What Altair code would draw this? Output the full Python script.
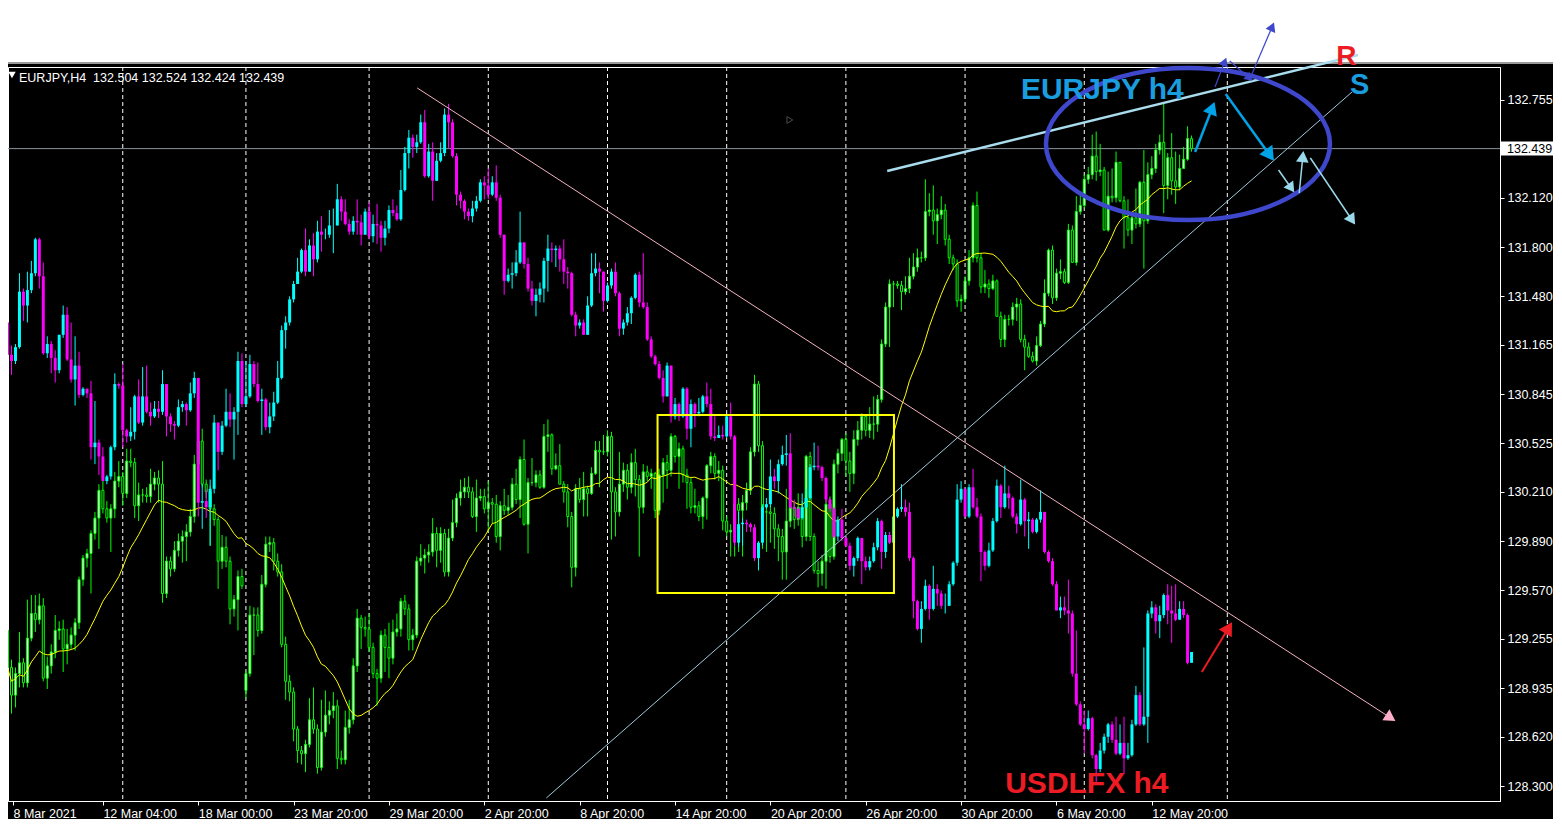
import math
import altair as alt
import pandas as pd

# ------------------------------------------------------------------ data
# USDLFX h4 (drawn on the EURJPY price axis)
U_OPEN0 = 131.31
U_CLOSE = [
    131.10, 131.06, 131.15, 131.51, 131.42, 131.52, 131.63, 131.85, 131.61, 131.11,
    131.17, 131.08, 131.00, 131.23, 131.36, 131.07, 130.94, 131.03, 130.84, 130.88,
    130.85, 130.50, 130.53, 130.44, 130.28, 130.31, 130.50, 130.91, 130.90, 130.61,
    130.57, 130.60, 130.83, 130.66, 130.83, 130.73, 130.70, 130.75, 130.73, 130.91,
    130.70, 130.65, 130.64, 130.76, 130.78, 130.74, 130.85, 130.95, 130.14, 130.15,
    130.11, 130.23, 130.66, 130.47, 130.64, 130.73, 130.68, 130.73, 131.06, 130.78,
    130.83, 131.04, 130.91, 130.80, 130.81, 130.63, 130.70, 130.79, 130.95, 131.26,
    131.31, 131.46, 131.56, 131.64, 131.78,
    131.64, 131.81, 131.72, 131.90, 131.88, 131.88, 131.94, 131.94, 132.11, 132.03,
    131.95, 131.90, 131.97, 131.96, 131.88, 132.03, 131.87, 131.95, 131.94, 131.86,
    131.92, 132.04, 132.02, 131.98, 132.17, 132.41, 132.51, 132.45, 132.48, 132.61,
    132.26, 132.42, 132.23, 132.36, 132.41, 132.66, 132.61, 132.39, 132.14, 132.10,
    132.03, 132.00, 132.05, 132.10, 132.22, 132.20, 132.14, 132.22, 132.12, 131.88,
    131.58, 131.62, 131.63, 131.70, 131.83, 131.69, 131.53, 131.45, 131.49, 131.53,
    131.71, 131.79, 131.78, 131.79, 131.72, 131.64, 131.63, 131.36, 131.29, 131.31,
    131.23, 131.42, 131.63, 131.66, 131.64,
    131.45, 131.55, 131.64, 131.50, 131.27, 131.31, 131.37, 131.47, 131.62, 131.44,
    131.41, 131.20, 131.09, 131.04, 130.95, 130.83, 131.03, 130.70, 130.78, 130.70,
    130.88, 130.62, 130.78, 130.72, 130.73, 130.83, 130.78, 130.57, 130.56, 130.58,
    130.57, 130.70, 130.57, 129.88, 130.00, 130.01, 130.00, 129.98, 129.78, 129.88,
    130.11, 130.13, 130.31, 130.28, 130.39, 130.45, 130.46, 130.11, 130.10, 130.04,
    130.11, 130.17, 130.37, 130.38, 130.37, 130.30, 130.16, 130.10, 129.92, 130.03,
    129.91, 129.86, 129.73, 129.78, 129.91, 129.76, 129.72, 129.76, 129.85, 130.02,
    129.82, 129.93, 129.88, 130.05, 130.10,
    130.11, 130.08, 129.78, 129.50, 129.32, 129.45, 129.60, 129.45, 129.58, 129.55,
    129.47, 129.47, 129.61, 129.75, 130.16, 130.23, 130.05, 130.24, 130.11, 130.05,
    129.82, 129.73, 129.83, 130.02, 130.25, 130.11, 130.20, 130.17, 130.05, 130.00,
    130.16, 130.02, 130.03, 129.95, 130.03, 130.08, 129.82, 129.76, 129.61, 129.44,
    129.46, 129.44, 129.42, 129.03, 128.83, 128.70, 128.67, 128.74, 128.50, 128.41,
    128.53, 128.62, 128.70, 128.60, 128.51, 128.58, 128.48, 128.50, 128.70, 128.89,
    128.70, 128.75, 129.42, 129.46, 129.37, 129.41, 129.54, 129.44, 129.42, 129.38,
    129.45, 129.41, 129.10, 129.17,
]
U_HIGH = [
    131.32, 131.16, 131.17, 131.63, 131.53, 131.64, 131.71, 131.86, 131.86, 131.70,
    131.22, 131.19, 131.13, 131.23, 131.42, 131.41, 131.31, 131.22, 131.12, 130.89,
    130.88, 130.93, 130.80, 130.55, 130.50, 130.32, 130.51, 130.98, 130.92, 131.04,
    130.62, 130.76, 130.84, 130.94, 131.02, 131.03, 130.79, 130.80, 130.80, 131.00,
    130.91, 130.72, 130.67, 130.81, 130.80, 130.79, 130.92, 130.99, 130.95, 130.26,
    130.23, 130.29, 130.71, 130.66, 130.67, 130.88, 130.85, 130.76, 131.12, 131.11,
    131.06, 131.10, 131.06, 131.05, 130.88, 130.82, 130.79, 130.86, 131.06, 131.29,
    131.35, 131.48, 131.58, 131.73, 131.79,
    131.92, 131.85, 131.89, 131.97, 132.00, 131.92, 132.04, 132.05, 132.21, 132.13,
    132.11, 131.98, 132.00, 132.11, 132.01, 132.05, 132.09, 132.01, 132.08, 131.97,
    131.97, 132.07, 132.11, 132.07, 132.30, 132.45, 132.56, 132.53, 132.53, 132.66,
    132.69, 132.47, 132.48, 132.41, 132.48, 132.70, 132.73, 132.63, 132.41, 132.16,
    132.11, 132.05, 132.10, 132.13, 132.24, 132.26, 132.31, 132.26, 132.33, 132.14,
    131.88, 131.66, 131.70, 131.78, 132.03, 131.83, 131.73, 131.58, 131.53, 131.57,
    131.73, 131.88, 131.83, 131.81, 131.81, 131.85, 131.67, 131.64, 131.38, 131.33,
    131.33, 131.48, 131.76, 131.76, 131.70,
    131.48, 131.57, 131.66, 131.70, 131.51, 131.33, 131.41, 131.48, 131.63, 131.64,
    131.76, 131.44, 131.22, 131.10, 131.06, 131.00, 131.05, 131.03, 130.82, 130.79,
    130.89, 130.89, 130.81, 130.79, 130.82, 130.84, 130.92, 130.88, 130.70, 130.64,
    130.64, 130.71, 130.79, 130.58, 130.08, 130.04, 130.03, 130.01, 130.00, 129.89,
    130.13, 130.17, 130.42, 130.36, 130.42, 130.51, 130.58, 130.59, 130.16, 130.11,
    130.20, 130.23, 130.39, 130.53, 130.51, 130.38, 130.31, 130.17, 130.11, 130.05,
    130.10, 129.92, 129.88, 129.79, 129.92, 129.91, 129.79, 129.79, 129.88, 130.04,
    130.03, 129.95, 129.95, 130.08, 130.11,
    130.26, 130.16, 130.14, 129.79, 129.51, 129.50, 129.64, 129.61, 129.73, 129.61,
    129.57, 129.55, 129.63, 129.76, 130.26, 130.28, 130.23, 130.26, 130.36, 130.17,
    130.07, 129.83, 129.88, 130.04, 130.29, 130.26, 130.38, 130.25, 130.18, 130.07,
    130.29, 130.17, 130.08, 130.04, 130.04, 130.22, 130.08, 129.83, 129.78, 129.63,
    129.53, 129.53, 129.64, 129.44, 129.31, 128.85, 128.79, 128.79, 128.75, 128.51,
    128.58, 128.64, 128.71, 128.72, 128.75, 128.70, 128.75, 128.58, 128.73, 128.95,
    128.91, 129.20, 129.44, 129.50, 129.48, 129.47, 129.55, 129.61, 129.60, 129.61,
    129.50, 129.50, 129.42, 129.17,
]
U_LOW = [
    131.07, 130.97, 131.04, 131.14, 131.32, 131.31, 131.50, 131.61, 131.53, 131.10,
    131.08, 130.98, 130.92, 130.98, 131.21, 131.06, 130.92, 130.77, 130.82, 130.83,
    130.82, 130.42, 130.39, 130.32, 130.28, 130.26, 130.29, 130.48, 130.88, 130.50,
    130.53, 130.54, 130.55, 130.65, 130.64, 130.72, 130.64, 130.69, 130.69, 130.71,
    130.57, 130.60, 130.55, 130.63, 130.73, 130.64, 130.73, 130.82, 130.05, 129.97,
    130.04, 129.86, 130.20, 130.35, 130.45, 130.63, 130.63, 130.42, 130.58, 130.76,
    130.76, 130.82, 130.89, 130.79, 130.58, 130.61, 130.59, 130.67, 130.78, 130.94,
    131.14, 131.29, 131.44, 131.56, 131.63,
    131.61, 131.64, 131.61, 131.70, 131.77, 131.85, 131.86, 131.76, 131.94, 131.97,
    131.94, 131.88, 131.88, 131.88, 131.81, 131.88, 131.85, 131.83, 131.82, 131.77,
    131.81, 131.89, 132.00, 131.97, 131.97, 132.16, 132.31, 132.38, 132.41, 132.47,
    132.25, 132.25, 132.10, 132.23, 132.35, 132.39, 132.44, 132.38, 132.07, 132.05,
    131.98, 131.97, 131.96, 132.03, 132.09, 132.11, 132.11, 132.13, 132.10, 131.86,
    131.49, 131.57, 131.53, 131.61, 131.69, 131.66, 131.51, 131.42, 131.35, 131.44,
    131.44, 131.51, 131.70, 131.67, 131.64, 131.56, 131.53, 131.35, 131.22, 131.27,
    131.23, 131.23, 131.41, 131.61, 131.50,
    131.38, 131.44, 131.53, 131.48, 131.22, 131.23, 131.29, 131.30, 131.46, 131.41,
    131.40, 131.19, 131.08, 131.03, 130.94, 130.79, 130.83, 130.66, 130.68, 130.67,
    130.69, 130.55, 130.50, 130.63, 130.70, 130.72, 130.76, 130.55, 130.54, 130.56,
    130.55, 130.56, 130.55, 129.86, 129.85, 129.86, 129.95, 129.95, 129.76, 129.70,
    129.86, 130.10, 130.11, 130.23, 130.20, 130.38, 130.38, 130.10, 130.05, 130.03,
    130.03, 130.10, 130.16, 130.35, 130.35, 130.28, 130.14, 130.08, 129.91, 129.89,
    129.89, 129.85, 129.70, 129.66, 129.76, 129.61, 129.70, 129.70, 129.75, 129.83,
    129.71, 129.78, 129.87, 129.87, 130.04,
    130.08, 130.05, 129.76, 129.39, 129.31, 129.23, 129.44, 129.38, 129.44, 129.47,
    129.45, 129.42, 129.47, 129.60, 129.73, 130.14, 130.05, 130.04, 130.10, 130.04,
    129.63, 129.70, 129.72, 129.82, 130.01, 130.04, 130.10, 130.10, 130.04, 129.94,
    129.99, 129.92, 129.84, 129.94, 129.94, 130.01, 129.81, 129.75, 129.60, 129.44,
    129.39, 129.41, 129.29, 129.01, 128.82, 128.69, 128.51, 128.66, 128.48, 128.32,
    128.39, 128.51, 128.58, 128.58, 128.50, 128.50, 128.38, 128.47, 128.49, 128.69,
    128.69, 128.69, 128.58, 129.39, 129.29, 129.26, 129.39, 129.35, 129.23, 129.37,
    129.38, 129.39, 129.09, 129.11,
]

# EURJPY h4
E_OPEN0 = 129.31
E_GAP_OPEN = {60: 128.92}
E_CLOSE = [
    129.07, 128.89, 129.03, 129.10, 128.97, 129.26, 129.42, 129.38, 129.47, 129.00,
    129.08, 129.17, 129.31, 129.32, 129.19, 129.22, 129.28, 129.36, 129.64, 129.78,
    129.81, 129.94, 130.04, 130.22, 130.10, 130.04, 130.10, 130.28, 130.31, 130.20,
    130.41, 130.40, 130.12, 130.19, 130.19, 130.18, 130.26, 130.30, 130.26, 129.55,
    129.76, 129.71, 129.83, 129.89, 129.92, 129.95, 130.05, 130.39, 130.54, 130.26,
    130.21, 130.10, 130.03, 129.76, 129.85, 129.76, 129.45, 129.51, 129.66, 129.60,
    129.03, 129.41, 129.41, 129.31, 129.61, 129.87, 129.88, 129.76, 129.69, 129.22,
    128.98, 128.91, 128.67, 128.53, 128.51,
    128.57, 128.73, 128.67, 128.42, 128.65, 128.76, 128.79, 128.82, 128.48, 128.47,
    128.68, 128.73, 129.08, 129.39, 129.33, 129.32, 129.20, 129.03, 129.00, 129.28,
    129.20, 129.13, 129.30, 129.32, 129.50, 129.45, 129.25, 129.28, 129.76, 129.78,
    129.80, 129.82, 129.94, 129.83, 129.94, 129.69, 129.91, 130.01, 130.17, 130.21,
    130.24, 130.21, 130.05, 130.17, 130.18, 130.10, 130.14, 130.13, 129.92, 130.12,
    130.09, 130.11, 130.26, 130.16, 130.42, 130.00, 130.27, 130.27, 130.32, 130.24,
    130.57, 130.58, 130.36, 130.38, 130.26, 130.21, 130.05, 129.72, 130.23, 130.16,
    130.23, 130.20, 130.33, 130.48, 130.47,
    130.47, 130.57, 130.21, 130.08, 130.26, 130.35, 130.24, 130.40, 130.29, 130.11,
    130.34, 130.31, 130.33, 130.09, 130.32, 130.40, 130.35, 130.57, 130.44, 130.49,
    130.32, 130.27, 130.11, 130.12, 130.05, 130.17, 130.38, 130.44, 130.33, 130.35,
    130.02, 129.95, 129.96, 130.13, 130.09, 130.14, 130.22, 130.47, 130.91, 130.51,
    130.08, 130.08, 130.07, 129.97, 129.92, 129.82, 130.02, 130.11, 130.03, 130.11,
    129.92, 130.44, 129.92, 129.70, 129.68, 129.76, 130.13, 129.79, 130.39, 130.46,
    130.55, 130.41, 130.33, 130.55, 130.61, 130.70, 130.61, 130.65, 130.65, 130.81,
    131.17, 131.41, 131.56, 131.56, 131.55,
    131.51, 131.53, 131.61, 131.67, 131.73, 131.73, 132.03, 132.04, 131.97, 132.01,
    132.04, 131.85, 131.73, 131.69, 131.45, 131.46, 131.58, 131.73, 132.07, 131.73,
    131.54, 131.56, 131.53, 131.58, 131.35, 131.20, 131.33, 131.33, 131.41, 131.43,
    131.20, 131.15, 131.09, 131.06, 131.16, 131.30, 131.50, 131.78, 131.47, 131.63,
    131.64, 131.57, 131.91, 131.70, 132.03, 132.07, 132.24, 132.27, 132.39, 132.29,
    132.30, 131.91, 132.13, 132.12, 132.35, 132.10, 131.99, 131.91, 131.99, 131.95,
    132.22, 131.97, 132.27, 132.31, 132.43, 132.48, 132.20, 132.38, 132.23, 132.19,
    132.31, 132.37, 132.504, 132.439,
]
# upper / lower shadow lengths (yen)
E_UPPER = [
    .03, .05, .04, .20, .03, .25, .12, .12, .08, .05, .06, .05, .10, .05, .06, .10, .05, .03, .02, .02,
    .03, .02, .04, .04, .10, .05, .03, .06, .10, .03, .08, .08, .03, .08, .04, .05, .10, .04, .05, .15,
    .03, .03, .06, .05, .04, .05, .05, .06, .12, .08, .03, .04, .03, .02, .08, .07, .03, .03, .04, .05,
    .02, .06, .05, .05, .06, .05, .04, .03, .05, .05, .05, .04, .03, .02, .03,
    .03, .14, .21, .03, .21, .16, .06, .09, .04, .05, .11, .13, .05, .06, .02, .07, .10, .03, .03, .03,
    .04, .16, .08, .10, .02, .04, .03, .04, .03, .09, .04, .05, .10, .04, .04, .03, .06, .15, .03, .08,
    .06, .07, .03, .12, .05, .05, .14, .03, .06, .03, .11, .08, .04, .10, .02, .13, .03, .16, .03, .03,
    .08, .10, .01, .08, .14, .02, .05, .03, .03, .07, .11, .02, .04, .06, .06,
    .11, .04, .03, .03, .21, .05, .04, .06, .09, .03, .05, .04, .03, .01, .04, .03, .05, .02, .01, .04,
    .02, .04, .03, .11, .03, .01, .01, .03, .02, .06, .03, .03, .04, .05, .04, .05, .05, .03, .06, .02,
    .03, .05, .04, .04, .03, .05, .21, .06, .03, .09, .04, .01, .03, .02, .06, .04, .05, .05, .03, .03,
    .01, .04, .06, .06, .06, .02, .01, .11, .18, .03, .03, .03, .03, .02, .02,
    .03, .08, .12, .09, .06, .04, .21, .11, .16, .04, .09, .04, .03, .02, .03, .03, .03, .05, .02, .09,
    .03, .09, .03, .04, .01, .03, .03, .03, .03, .04, .03, .03, .03, .03, .06, .02, .09, .01, .03, .03,
    .08, .02, .04, .03, .10, .08, .03, .05, .14, .16, .17, .02, .16, .18, .07, .00, .03, .12, .03, .19,
    .01, .21, .08, .08, .04, .05, .25, .03, .16, .19, .09, .08, .08, .02,
]
E_LOWER = [
    .10, .12, .08, .09, .03, .03, .02, .08, .03, .02, .07, .05, .04, .06, .15, .10, .03, .10, .04, .04,
    .06, .26, .04, .20, .03, .03, .22, .06, .04, .08, .03, .03, .08, .10, .05, .04, .04, .04, .12, .06,
    .03, .05, .02, .04, .14, .16, .03, .04, .05, .02, .04, .24, .04, .18, .05, .04, .10, .05, .20, .02,
    .05, .02, .26, .04, .02, .02, .05, .06, .03, .02, .12, .06, .08, .08, .07,
    .12, .02, .03, .04, .02, .03, .06, .05, .07, .03, .03, .04, .03, .04, .14, .05, .03, .03, .18, .03,
    .16, .13, .04, .03, .05, .04, .07, .07, .02, .03, .10, .05, .03, .11, .08, .03, .03, .02, .03, .05,
    .04, .04, .01, .10, .02, .03, .15, .13, .04, .09, .03, .03, .02, .03, .12, .01, .19, .02, .03, .01,
    .01, .10, .04, .01, .00, .07, .07, .13, .06, .02, .11, .15, .01, .01, .23,
    .02, .03, .31, .16, .03, .05, .08, .04, .11, .32, .04, .03, .08, .05, .03, .18, .12, .04, .04, .21,
    .05, .17, .04, .04, .03, .08, .14, .05, .04, .05, .06, .03, .16, .17, .27, .30, .05, .03, .03, .04,
    .24, .26, .19, .13, .16, .18, .18, .04, .06, .04, .07, .03, .03, .02, .09, .08, .18, .04, .02, .06,
    .05, .10, .12, .07, .04, .06, .04, .05, .10, .05, .02, .02, .26, .15, .02,
    .12, .02, .03, .02, .03, .03, .02, .03, .09, .15, .03, .04, .04, .04, .04, .07, .02, .03, .03, .03,
    .04, .04, .06, .01, .00, .05, .05, .04, .04, .09, .02, .15, .01, .01, .03, .01, .02, .02, .04, .02,
    .04, .01, .01, .00, .02, .02, .02, .03, .03, .06, .03, .00, .01, .03, .03, .01, .20, .04, .09, .03,
    .02, .31, .02, .03, .03, .03, .18, .09, .09, .11, .02, .00, .01, .02,
]
MA_PERIOD = 20

# first label belongs to the left edge of the visible window (bar 0 is cut by the frame)
X_TICKS = [1.375, 24, 48, 72, 96, 120, 144, 168, 192, 216, 240, 264, 288]
X_LABELS = ["8 Mar 2021", "12 Mar 04:00", "18 Mar 00:00", "23 Mar 20:00", "29 Mar 20:00",
            "2 Apr 20:00", "8 Apr 20:00", "14 Apr 20:00", "20 Apr 20:00", "26 Apr 20:00",
            "30 Apr 20:00", "6 May 20:00", "12 May 20:00"]
Y_TICKS = [132.755, 132.120, 131.800, 131.480, 131.165, 130.845, 130.525, 130.210,
           129.890, 129.570, 129.255, 128.935, 128.620, 128.300]
GRID_BARS = [29, 60, 91, 121, 151, 181, 211, 241, 271, 307]
LAST_PRICE = 132.439
HEADER = "EURJPY,H4\u00a0\u00a0132.504 132.524 132.424 132.439"

# drawn objects, in (bar, price)
LINE_B1 = [103.1, 135.6, 221.4]
LINE_P1 = [132.833, 128.222, 132.294]
LINE_B2 = [348.9, 338.4, 339.9]
LINE_P2 = [128.729, 132.807, 133.047]
LINE_COL = ["#f2b3c0", "#9fc9d9", "#a9dcec"]
LINE_W = [1.0, 1.0, 2.5]

ARR_B1 = [298.9, 306.6, 319.9, 325.1, 327.9, 303.9, 313.1, 307.6, 300.6]
ARR_P1 = [132.417, 132.794, 132.300, 132.151, 132.378, 132.839, 132.917, 133.008, 129.040]
ARR_B2 = [303.6, 318.4, 323.6, 326.1, 338.9, 306.6, 318.6, 313.1, 307.9]
ARR_P2 = [132.729, 132.372, 132.164, 132.411, 131.956, 133.021, 133.249, 132.885, 129.352]
ARR_COL = ["#00a2e8", "#00a2e8", "#99d9ea", "#99d9ea", "#99d9ea",
           "#3f48cc", "#3f48cc", "#3f48cc", "#ed1c24"]
ARR_W = [2.5, 2.5, 1.5, 1.5, 1.5, 1.2, 1.2, 1.2, 2.0]
ARR_HEAD = [220, 260, 140, 160, 160, 100, 110, 90, 230]

BOX_B = [163.6, 223.1]
BOX_P = [130.709, 129.553]
ELLIPSE_B, ELLIPSE_P = 297.1, 132.469
MARKER_B, MARKER_P = 196.9, 132.625

TEXTS = ["EURJPY h4", "USDLFX h4", "R", "S"]
TEXT_B = [255.05, 251.1, 334.4, 337.9]
TEXT_P = [132.761, 128.254, 132.982, 132.794]
TEXT_COL = ["#1a9ddf", "#ed1c24", "#ed1c24", "#1a9ddf"]
TEXT_SIZE = [30, 30, 28, 29]

# ------------------------------------------------------------------ layout / style
W, H = 1492, 734
XMIN, XMAX = 1.375, 374.375
YMIN, YMAX = 128.2026, 132.969
PXB = W / (XMAX - XMIN)
PXP = H / (YMAX - YMIN)
FONT = "Liberation Sans"
XS = alt.Scale(domain=[XMIN, XMAX], nice=False, zero=False)
YS = alt.Scale(domain=[YMIN, YMAX], nice=False, zero=False)

label_expr = "".join(f"datum.value == {t} ? '{l}' : " for t, l in zip(X_TICKS, X_LABELS)) + "''"
XA = alt.Axis(values=X_TICKS, labelExpr=label_expr, orient="bottom",
              labelAlign="left", labelPadding=2, labelColor="#ffffff",
              labelFont=FONT, labelFontSize=12.5, tickColor="#ffffff",
              tickSize=4, domainColor="#ffffff", grid=False, title=None,
              labelFlush=False, labelOverlap=False, labelBound=False)
YA = alt.Axis(values=Y_TICKS, format=".3f", orient="right",
              labelColor="#ffffff", labelFont=FONT, labelFontSize=12.5,
              tickColor="#ffffff", tickSize=4, labelPadding=3,
              domainColor="#ffffff", grid=False, title=None,
              labelOverlap=False, labelFlush=False, labelBound=False)


def X(f):
    return alt.X(f, type="quantitative", scale=XS, axis=XA)


def Y(f):
    return alt.Y(f, type="quantitative", scale=YS, axis=YA)


# ------------------------------------------------------------------ tables
n = min(len(U_CLOSE), len(U_HIGH), len(U_LOW))
u_open = [U_OPEN0] + U_CLOSE[: n - 1]
dfU = pd.DataFrame({"bar": list(range(n)), "open": u_open, "close": U_CLOSE[:n]})
dfU["high"] = [max(h, o, c) for h, o, c in zip(U_HIGH[:n], dfU["open"], dfU["close"])]
dfU["low"] = [min(l, o, c) for l, o, c in zip(U_LOW[:n], dfU["open"], dfU["close"])]
dfU["col"] = ["#00ffff" if c >= o else "#ff00ff" for o, c in zip(dfU["open"], dfU["close"])]

m = min(len(E_CLOSE), len(E_UPPER), len(E_LOWER))
e_open = [E_OPEN0] + E_CLOSE[: m - 1]
for k, v in E_GAP_OPEN.items():
    e_open[k] = v
dfE = pd.DataFrame({"bar": list(range(m)), "open": e_open, "close": E_CLOSE[:m]})
dfE["high"] = [max(o, c) + u for o, c, u in zip(dfE["open"], dfE["close"], E_UPPER[:m])]
dfE["low"] = [min(o, c) - d for o, c, d in zip(dfE["open"], dfE["close"], E_LOWER[:m])]
dfE["fillc"] = ["#ffffff" if c > o else "#000000" for o, c in zip(dfE["open"], dfE["close"])]

dfLines = pd.DataFrame({"b1": LINE_B1, "p1": LINE_P1, "b2": LINE_B2, "p2": LINE_P2,
                        "col": LINE_COL, "w": LINE_W})
dfArr = pd.DataFrame({"b1": ARR_B1, "p1": ARR_P1, "b2": ARR_B2, "p2": ARR_P2,
                      "col": ARR_COL, "w": ARR_W})

# arrow heads (incl. the head at the end of the pink line)
hb, hp, ha, hs, hc = [], [], [], [], []
head_src = list(zip(ARR_B1, ARR_P1, ARR_B2, ARR_P2, ARR_COL, ARR_HEAD))
head_src.append((LINE_B1[0], LINE_P1[0], LINE_B2[0], LINE_P2[0], "#ffaec9", 170))
for b1, p1, b2, p2, col, size in head_src:
    dx = (b2 - b1) * PXB
    dy = -(p2 - p1) * PXP
    L = math.hypot(dx, dy)
    ux, uy = dx / L, dy / L
    h = math.sqrt(3) / 2 * math.sqrt(size) / 2
    hb.append(b2 - ux * h / PXB)
    hp.append(p2 + uy * h / PXP)
    ha.append(math.degrees(math.atan2(dx, -dy)) % 360)
    hs.append(size)
    hc.append(col)
dfHead = pd.DataFrame({"b": hb, "p": hp, "ang": ha, "size": hs, "col": hc})

dfText = pd.DataFrame({"t": TEXTS, "b": TEXT_B, "p": TEXT_P, "col": TEXT_COL, "fs": TEXT_SIZE})
dfGrid = pd.DataFrame({"bar": GRID_BARS})
one = pd.DataFrame({"a": [0]})

# ------------------------------------------------------------------ layers
band = alt.Chart(one).mark_rect(color="#ffffff", opacity=1).encode(
    x=alt.value(0), x2=alt.value(W + 60), y=alt.value(-59), y2=alt.value(-5))
band_edge = alt.Chart(one).mark_rect(color="#9a9a9a", opacity=1).encode(
    x=alt.value(0), x2=alt.value(W + 60), y=alt.value(-5), y2=alt.value(-3))

grid = alt.Chart(dfGrid).mark_rule(color="#ffffff", strokeDash=[4, 3], strokeWidth=1).encode(
    x=X("bar"))

price_line = alt.Chart(pd.DataFrame({"p": [LAST_PRICE]})).mark_rule(
    color="#8a939c", strokeWidth=1).encode(y=Y("p"))

e_wick = alt.Chart(dfE).mark_rule(color="#00ff00", strokeWidth=1).encode(
    x=X("bar"), y=Y("low"), y2="high:Q")
e_body = alt.Chart(dfE).mark_bar(size=2, stroke="#00ff00", strokeWidth=1, opacity=1).encode(
    x=X("bar"), y=Y("open"), y2="close:Q", fill=alt.Fill("fillc:N", scale=None))

ma = alt.Chart(dfE).transform_window(
    ma="mean(close)", frame=[-(MA_PERIOD - 1), 0], sort=[alt.SortField("bar")]
).mark_line(color="#ffff00", strokeWidth=1).encode(x=X("bar"), y=Y("ma"))

u_wick = alt.Chart(dfU).mark_rule(strokeWidth=1).encode(
    x=X("bar"), y=Y("low"), y2="high:Q", color=alt.Color("col:N", scale=None))
u_body = alt.Chart(dfU).mark_bar(size=3, opacity=1).encode(
    x=X("bar"), y=Y("open"), y2="close:Q", fill=alt.Fill("col:N", scale=None))

lines = alt.Chart(dfLines).mark_rule().encode(
    x=X("b1"), x2="b2:Q", y=Y("p1"), y2="p2:Q",
    color=alt.Color("col:N", scale=None), strokeWidth=alt.StrokeWidth("w:Q", scale=None))

box = alt.Chart(pd.DataFrame({"b1": [BOX_B[0]], "b2": [BOX_B[1]], "p1": [BOX_P[0]], "p2": [BOX_P[1]]})
                ).mark_rect(fillOpacity=0, stroke="#ffff00", strokeWidth=2, opacity=1).encode(
    x=X("b1"), x2="b2:Q", y=Y("p1"), y2="p2:Q")

ell_rx, ell_ry = 142, 76
ellipse = alt.Chart(pd.DataFrame({"b": [ELLIPSE_B], "p": [ELLIPSE_P]})).mark_point(
    shape=f"M-1,0A1,{ell_ry / ell_rx:.4f},0,1,1,1,0A1,{ell_ry / ell_rx:.4f},0,1,1,-1,0Z",
    size=(2 * ell_rx) ** 2, filled=False, stroke="#3f48cc", strokeWidth=4.5, opacity=1
).encode(x=X("b"), y=Y("p"))

arrows = alt.Chart(dfArr).mark_rule().encode(
    x=X("b1"), x2="b2:Q", y=Y("p1"), y2="p2:Q",
    color=alt.Color("col:N", scale=None), strokeWidth=alt.StrokeWidth("w:Q", scale=None))
heads = alt.Chart(dfHead).mark_point(shape="triangle", filled=True, opacity=1, strokeWidth=0).encode(
    x=X("b"), y=Y("p"), angle=alt.Angle("ang:Q", scale=None),
    size=alt.Size("size:Q", scale=None), fill=alt.Fill("col:N", scale=None))

marker = alt.Chart(pd.DataFrame({"b": [MARKER_B], "p": [MARKER_P]})).mark_point(
    shape="triangle-right", filled=False, stroke="#4a4a4a", strokeWidth=1, size=45, opacity=1
).encode(x=X("b"), y=Y("p"))

texts = alt.Chart(dfText).mark_text(font=FONT, fontWeight="bold", align="left",
                                    baseline="alphabetic").encode(
    x=X("b"), y=Y("p"), text="t:N", color=alt.Color("col:N", scale=None),
    size=alt.Size("fs:Q", scale=None))

header_tri = alt.Chart(one).mark_point(shape="triangle-down", filled=True, color="#ffffff",
                                       size=55, opacity=1).encode(
    x=alt.value(4), y=alt.value(8))
header = alt.Chart(pd.DataFrame({"t": [HEADER]})).mark_text(
    font=FONT, fontSize=12.5, color="#ffffff", align="left", baseline="alphabetic").encode(
    x=alt.value(11), y=alt.value(15), text="t:N")

pbox = alt.Chart(pd.DataFrame({"p": [LAST_PRICE]})).mark_tick(
    orient="horizontal", color="#ffffff", size=56, thickness=14, opacity=1).encode(
    x=alt.value(W + 28.5), y=Y("p"))
ptext = alt.Chart(pd.DataFrame({"p": [LAST_PRICE], "t": [f"{LAST_PRICE:.3f}"]})).mark_text(
    font=FONT, fontSize=12.5, color="#000000", align="left", baseline="middle").encode(
    x=alt.value(W + 7), y=Y("p"), text="t:N")

chart = alt.layer(
    band, band_edge, grid, price_line, e_wick, e_body, ma, u_wick, u_body,
    lines, box, ellipse, arrows, heads, marker, texts, header_tri, header, pbox, ptext
).properties(
    width=W, height=H, background="#000000",
    autosize=alt.AutoSizeParams(type="none"),
    padding={"left": 0, "top": 59, "right": 53, "bottom": 18},
).configure_view(stroke="#ffffff", strokeWidth=1, fill="#000000")

chart.save("out.html", embed_options={"renderer": "svg", "actions": False})
